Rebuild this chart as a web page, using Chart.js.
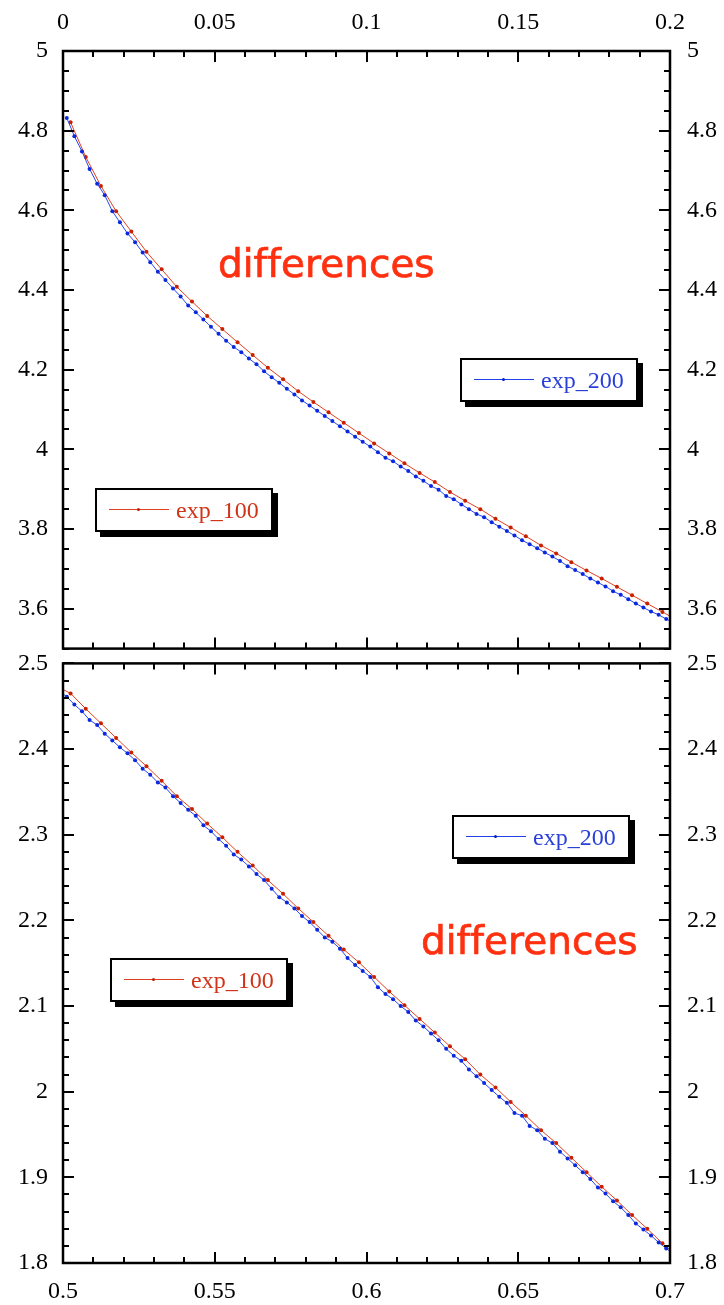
<!DOCTYPE html>
<html>
<head>
<meta charset="utf-8">
<script src="https://cdn.jsdelivr.net/npm/chart.js@4.4.1/dist/chart.umd.min.js"></script>
<style>
  html, body { margin: 0; padding: 0; background: #fff; }
  body { position: relative; width: 724px; height: 1305px; overflow: hidden; }
  canvas { position: absolute; left: 0; }
  #top { top: 0; }
  #bottom { top: 632px; }
  .leg {
    position: absolute; box-sizing: border-box; width: 178px; height: 44px;
    background: #fff; border: 2px solid #000; box-shadow: 5px 5px 0 #000;
    font-family: "Liberation Serif", serif; font-size: 24px;
  }
  .leg .ln { position: absolute; left: 12px; top: 19px; width: 60px; height: 1px; }
  .leg .dot { position: absolute; left: 28px; top: -1px; width: 3px; height: 3px; border-radius: 50%; }
  .leg .tx { position: absolute; left: 79px; top: 0; line-height: 40px; }
  .diff {
    position: absolute; font-family: "DejaVu Sans", sans-serif; font-size: 39px;
    font-variant-ligatures: none; -webkit-text-stroke: 0.7px #ff3010;
    line-height: 1; color: #ff3010; white-space: nowrap;
  }
</style>
</head>
<body>
<canvas id="top" width="724" height="680"></canvas>
<canvas id="bottom" width="724" height="673"></canvas>

<div class="diff" style="left:218px;top:244px">differences</div>
<div class="diff" style="left:421px;top:921px">differences</div>

<div class="leg" style="left:460px;top:358px">
  <div class="ln" style="background:#2040e8"><div class="dot" style="background:#0020d0"></div></div>
  <div class="tx" style="color:#2a40d8">exp_200</div>
</div>
<div class="leg" style="left:95px;top:488px">
  <div class="ln" style="background:#e04020"><div class="dot" style="background:#c02000"></div></div>
  <div class="tx" style="color:#d03418">exp_100</div>
</div>
<div class="leg" style="left:452px;top:815px">
  <div class="ln" style="background:#2040e8"><div class="dot" style="background:#0020d0"></div></div>
  <div class="tx" style="color:#2a40d8">exp_200</div>
</div>
<div class="leg" style="left:110px;top:958px">
  <div class="ln" style="background:#e04020"><div class="dot" style="background:#c02000"></div></div>
  <div class="tx" style="color:#d03418">exp_100</div>
</div>

<script>
// ---- data: upper panel (x 0 .. 0.2) ----
const topX200 = [
  0.00125,0.00375,0.00625,0.00875,0.01125,0.01375,0.01625,0.01875,0.02125,0.02375,
  0.02625,0.02875,0.03125,0.03375,0.03625,0.03875,0.04125,0.04375,0.04625,0.04875,
  0.05125,0.05375,0.05625,0.05875,0.06125,0.06375,0.06625,0.06875,0.07125,0.07375,
  0.07625,0.07875,0.08125,0.08375,0.08625,0.08875,0.09125,0.09375,0.09625,0.09875,
  0.10125,0.10375,0.10625,0.10875,0.11125,0.11375,0.11625,0.11875,0.12125,0.12375,
  0.12625,0.12875,0.13125,0.13375,0.13625,0.13875,0.14125,0.14375,0.14625,0.14875,
  0.15125,0.15375,0.15625,0.15875,0.16125,0.16375,0.16625,0.16875,0.17125,0.17375,
  0.17625,0.17875,0.18125,0.18375,0.18625,0.18875,0.19125,0.19375,0.19625,0.19875,
  0.20125
];
const topY200 = [
  4.832,4.786,4.748,4.704,4.667,4.638,4.598,4.570,4.542,4.520,
  4.494,4.470,4.446,4.425,4.404,4.384,4.361,4.344,4.326,4.308,
  4.290,4.273,4.257,4.244,4.228,4.214,4.196,4.181,4.167,4.152,
  4.138,4.123,4.110,4.097,4.084,4.071,4.058,4.045,4.032,4.019,
  4.007,3.993,3.979,3.970,3.957,3.946,3.932,3.921,3.908,3.899,
  3.883,3.875,3.862,3.850,3.838,3.830,3.817,3.806,3.795,3.784,
  3.772,3.762,3.752,3.741,3.731,3.720,3.707,3.697,3.687,3.676,
  3.666,3.656,3.644,3.635,3.624,3.613,3.603,3.593,3.585,3.574,
  3.566
];
const topX100 = [
  0.0025,0.0075,0.0125,0.0175,0.0225,0.0275,0.0325,0.0375,0.0425,0.0475,
  0.0525,0.0575,0.0625,0.0675,0.0725,0.0775,0.0825,0.0875,0.0925,0.0975,
  0.1025,0.1075,0.1125,0.1175,0.1225,0.1275,0.1325,0.1375,0.1425,0.1475,
  0.1525,0.1575,0.1625,0.1675,0.1725,0.1775,0.1825,0.1875,0.1925,0.1975,
  0.2025
];
const topY100 = [
  4.821,4.734,4.661,4.598,4.547,4.496,4.452,4.408,4.371,4.335,
  4.302,4.269,4.237,4.205,4.176,4.146,4.119,4.093,4.067,4.041,
  4.015,3.990,3.965,3.941,3.918,3.893,3.871,3.850,3.826,3.804,
  3.782,3.759,3.739,3.717,3.696,3.676,3.655,3.634,3.613,3.592,
  3.571
];

// ---- data: lower panel (x 0.5 .. 0.7) ----
const botX200 = [
  0.49875,
  0.50125,0.50375,0.50625,0.50875,0.51125,0.51375,0.51625,0.51875,0.52125,0.52375,
  0.52625,0.52875,0.53125,0.53375,0.53625,0.53875,0.54125,0.54375,0.54625,0.54875,
  0.55125,0.55375,0.55625,0.55875,0.56125,0.56375,0.56625,0.56875,0.57125,0.57375,
  0.57625,0.57875,0.58125,0.58375,0.58625,0.58875,0.59125,0.59375,0.59625,0.59875,
  0.60125,0.60375,0.60625,0.60875,0.61125,0.61375,0.61625,0.61875,0.62125,0.62375,
  0.62625,0.62875,0.63125,0.63375,0.63625,0.63875,0.64125,0.64375,0.64625,0.64875,
  0.65125,0.65375,0.65625,0.65875,0.66125,0.66375,0.66625,0.66875,0.67125,0.67375,
  0.67625,0.67875,0.68125,0.68375,0.68625,0.68875,0.69125,0.69375,0.69625,0.69875,
  0.70125
];
const botY200 = [
  2.468,
  2.461,2.452,2.444,2.434,2.428,2.418,2.410,2.402,2.395,2.387,
  2.377,2.370,2.361,2.355,2.345,2.337,2.329,2.322,2.311,2.304,
  2.295,2.287,2.277,2.271,2.263,2.254,2.247,2.237,2.227,2.221,
  2.214,2.205,2.198,2.189,2.180,2.175,2.167,2.156,2.148,2.141,
  2.134,2.122,2.114,2.108,2.100,2.093,2.083,2.076,2.068,2.060,
  2.050,2.042,2.036,2.026,2.018,2.010,2.002,1.994,1.987,1.975,
  1.972,1.960,1.955,1.945,1.940,1.930,1.922,1.914,1.906,1.898,
  1.888,1.881,1.872,1.865,1.856,1.846,1.839,1.832,1.824,1.817,
  1.810
];
const botX100 = [
  0.4975,
  0.5025,0.5075,0.5125,0.5175,0.5225,0.5275,0.5325,0.5375,0.5425,0.5475,
  0.5525,0.5575,0.5625,0.5675,0.5725,0.5775,0.5825,0.5875,0.5925,0.5975,
  0.6025,0.6075,0.6125,0.6175,0.6225,0.6275,0.6325,0.6375,0.6425,0.6475,
  0.6525,0.6575,0.6625,0.6675,0.6725,0.6775,0.6825,0.6875,0.6925,0.6975,
  0.7025
];
const botY100 = [
  2.474,
  2.465,2.447,2.430,2.413,2.396,2.380,2.363,2.345,2.330,2.313,
  2.297,2.280,2.264,2.247,2.231,2.214,2.198,2.182,2.166,2.151,
  2.134,2.117,2.101,2.085,2.069,2.053,2.038,2.020,2.005,1.988,
  1.972,1.955,1.940,1.923,1.906,1.889,1.873,1.856,1.840,1.823,
  1.807
];

// tick labels
const topXTicks = [0, 0.05, 0.1, 0.15, 0.2];
const topYTicks = [3.6, 3.8, 4, 4.2, 4.4, 4.6, 4.8, 5];
const botXTicks = [0.5, 0.55, 0.6, 0.65, 0.7];
const botYTicks = [1.8, 1.9, 2, 2.1, 2.2, 2.3, 2.4, 2.5];

const RED = '#e04020', RED_PT = '#c82000';
const BLUE = '#2848ee', BLUE_PT = '#0a28dc';

function pts(xs, ys) {
  return xs.map((x, i) => ({ x: x, y: ys[i] }));
}
function fmt(v) {
  return String(Number(Number(v).toFixed(3)));
}

// frame plus inward ticks on all four sides
const frameTicks = {
  id: 'frameTicks',
  afterDatasetsDraw(chart, args, o) {
    const ctx = chart.ctx, a = chart.chartArea;
    const xs = chart.scales.x, ys = chart.scales.y;
    ctx.save();
    ctx.strokeStyle = '#000';
    ctx.lineWidth = 2;
    ctx.beginPath();
    for (let i = 0; i <= o.xN; i++) {
      const v = xs.min + i * o.xStep;
      const px = Math.round(xs.getPixelForValue(v));
      const len = i % o.xEvery === 0 ? 11 : 6;
      ctx.moveTo(px, a.top); ctx.lineTo(px, a.top + len);
      ctx.moveTo(px, a.bottom); ctx.lineTo(px, a.bottom - len);
    }
    for (let i = 0; i <= o.yN; i++) {
      const v = ys.min + i * o.yStep;
      const py = Math.round(ys.getPixelForValue(v));
      const len = (i + o.yOff) % o.yEvery === 0 ? 11 : 6;
      ctx.moveTo(a.left, py); ctx.lineTo(a.left + len, py);
      ctx.moveTo(a.right, py); ctx.lineTo(a.right - len, py);
    }
    ctx.stroke();
    ctx.lineWidth = 2.5;
    ctx.strokeRect(a.left, a.top, a.right - a.left, a.bottom - a.top);
    ctx.restore();
  }
};

const tickFont = { family: 'Liberation Serif', size: 24 };

function axis(pos, min, max, ticks, size, pad) {
  return {
    type: 'linear', position: pos, min: min, max: max,
    afterFit: s => { if (pos === 'top' || pos === 'bottom') s.height = size; else s.width = size; },
    afterBuildTicks: s => { s.ticks = ticks.map(v => ({ value: v })); },
    ticks: { font: tickFont, color: '#000', padding: pad, maxRotation: 0, autoSkip: false, callback: fmt },
    grid: { display: false, drawTicks: false },
    border: { display: false }
  };
}

function makeChart(id, d, sc, pad, tk) {
  return new Chart(document.getElementById(id), {
    type: 'line',
    data: {
      datasets: [
        { label: 'exp_200', data: d.b, borderColor: BLUE, backgroundColor: BLUE_PT, borderWidth: 1,
          pointRadius: 2, pointBorderWidth: 0, pointBackgroundColor: BLUE_PT, tension: 0 },
        { label: 'exp_100', data: d.r, borderColor: RED, backgroundColor: RED_PT, borderWidth: 1,
          pointRadius: 2, pointBorderWidth: 0, pointBackgroundColor: RED_PT, tension: 0 }
      ]
    },
    options: {
      responsive: false, animation: false, devicePixelRatio: 1,
      layout: { padding: pad },
      plugins: { legend: { display: false }, tooltip: { enabled: false }, frameTicks: tk },
      scales: sc
    },
    plugins: [frameTicks]
  });
}

makeChart('top',
  { b: pts(topX200, topY200), r: pts(topX100, topY100) },
  {
    x: axis('top', 0, 0.2, topXTicks, 51, 14),
    y: axis('left', 3.5, 5, topYTicks, 63, 15),
    y2: axis('right', 3.5, 5, topYTicks, 54, 17)
  },
  { top: 0, left: 0, right: 0, bottom: 24 },
  { xStep: 0.01, xN: 20, xEvery: 5, yStep: 0.05, yN: 30, yEvery: 4, yOff: 2 }
);

makeChart('bottom',
  { b: pts(botX200, botY200), r: pts(botX100, botY100) },
  {
    x: axis('bottom', 0.5, 0.7, botXTicks, 42, 14),
    y: axis('left', 1.8, 2.5, botYTicks, 63, 15),
    y2: axis('right', 1.8, 2.5, botYTicks, 54, 17)
  },
  { top: 27, left: 0, right: 0, bottom: 0 },
  { xStep: 0.01, xN: 20, xEvery: 5, yStep: 0.02, yN: 35, yEvery: 5, yOff: 0 }
);
</script>
</body>
</html>
